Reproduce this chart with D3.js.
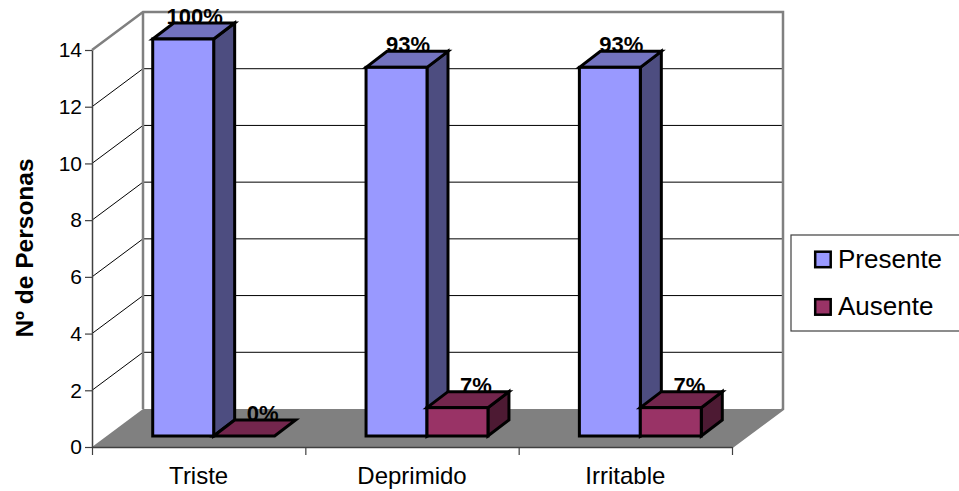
<!DOCTYPE html>
<html>
<head>
<meta charset="utf-8">
<script src="https://cdn.jsdelivr.net/npm/d3@7"></script>
<style>
    body { margin: 0; background: #fff; }
    svg { display: block; font-family: "Liberation Sans", Arial, sans-serif; }
    .domain { stroke: #404040; stroke-width: 1.5; }
    .tick line { stroke: #404040; stroke-width: 1.2; }
</style>
</head>
<body>
<div id="chart"></div>
<script>
const categories = ["Triste", "Deprimido", "Irritable"];
const presente = [14, 13, 13];
const ausente = [0, 1, 1];
const presenteLabels = ["100%", "93%", "93%"];
const ausenteLabels = ["0%", "7%", "7%"];
const yTicks = [0, 2, 4, 6, 8, 10, 12, 14];

const width = 959;
const height = 491;
const plotLeft = 92, plotRight = 732, plotBottom = 447, plotTop = 50;
const wallDx = 51, wallDy = 38;   // depth of the whole plot
const barDx = 21, barDy = 16;     // depth of one bar
const floorDx = 15, floorDy = 11; // where bars stand on the floor

const colors = {
    presente: { front: "#9999ff", top: "#7373bf", side: "#4d4d80" },
    ausente: { front: "#993366", top: "#73264d", side: "#4d1a33" }
};

const svg = d3.select("#chart").append("svg")
    .attr("width", width)
    .attr("height", height);

const y = d3.scaleLinear().domain([0, 14]).range([plotBottom, plotTop]);
const xEdges = d3.scaleLinear().domain([0, categories.length]).range([plotLeft, plotRight]);
const xBand = d3.scaleBand().domain(categories).range([plotLeft, plotRight]);
const xInner = d3.scaleBand().domain(["presente", "ausente"])
    .range([0, xBand.bandwidth()]).paddingOuter(0.75).paddingInner(0);

drawWalls();
drawAxes();
drawLabels();
drawBars();
drawLegend();

function drawWalls() {
    // floor
    svg.append("polygon")
        .attr("points", [
            [plotLeft, plotBottom], [plotRight, plotBottom],
            [plotRight + wallDx, plotBottom - wallDy], [plotLeft + wallDx, plotBottom - wallDy]
        ].join(" "))
        .attr("fill", "#808080")
        .attr("stroke", "none");

    // gridlines, back wall and left wall
    const grid = svg.append("g").attr("class", "grid");
    grid.selectAll("path")
        .data(yTicks.filter((d) => d > 0 && d < 14))
        .enter()
        .append("path")
        .attr("d", (d) => `M${plotLeft} ${y(d)}L${plotLeft + wallDx} ${y(d) - wallDy}H${plotRight + wallDx}`)
        .attr("fill", "none")
        .attr("stroke", "#000")
        .attr("stroke-width", 1);

    svg.append("path")
        .attr("d", `M${plotLeft} ${plotTop}L${plotLeft + wallDx} ${plotTop - wallDy}H${plotRight + wallDx}V${plotBottom - wallDy}L${plotRight} ${plotBottom}`)
        .attr("fill", "none")
        .attr("stroke", "#808080")
        .attr("stroke-width", 2.5);
    svg.append("line")
        .attr("x1", plotLeft + wallDx).attr("x2", plotLeft + wallDx)
        .attr("y1", plotTop - wallDy).attr("y2", plotBottom - wallDy)
        .attr("stroke", "#808080")
        .attr("stroke-width", 2.5);
}

function drawAxes() {
    const yAxis = d3.axisLeft(y).tickValues(yTicks).tickSize(7).tickSizeOuter(0);
    const gy = svg.append("g")
        .attr("transform", `translate(${plotLeft},0)`)
        .call(yAxis);
    gy.selectAll("text").style("font-size", "21px").attr("fill", "#000").attr("x", -10);

    const xAxis = d3.axisBottom(xEdges).ticks(categories.length).tickFormat("").tickSize(8).tickSizeOuter(0);
    svg.append("g")
        .attr("transform", `translate(0,${plotBottom})`)
        .call(xAxis);

    svg.append("g")
        .selectAll("text")
        .data(categories)
        .enter()
        .append("text")
        .attr("x", (d) => xBand(d) + xBand.bandwidth() / 2)
        .attr("y", 484)
        .attr("text-anchor", "middle")
        .style("font-size", "24px")
        .text((d) => d);

    svg.append("text")
        .attr("transform", "translate(32.5,248) rotate(-90)")
        .attr("text-anchor", "middle")
        .style("font-size", "24.5px")
        .style("font-weight", "bold")
        .text("Nº de Personas");
}

function barX(cat, key) {
    return xBand(cat) + xInner(key) + floorDx;
}

function barY(v) {
    return y(v) - floorDy;
}

function drawLabels() {
    const sets = [
        ["presente", presente, presenteLabels, 1],
        ["ausente", ausente, ausenteLabels, 8]
    ];
    sets.forEach(([key, values, labels, nudge]) => {
        svg.append("g")
            .selectAll("text")
            .data(categories)
            .enter()
            .append("text")
            .attr("x", (d) => barX(d, key) + xInner.bandwidth() / 2 + barDx / 2 + nudge)
            .attr("y", (d, i) => barY(values[i]) - barDy + 1)
            .attr("text-anchor", "middle")
            .style("font-size", "22px")
            .style("font-weight", "bold")
            .text((d, i) => labels[i]);
    });
}

function drawBars() {
    const rows = [];
    categories.forEach((cat, i) => {
        rows.push({ cat: cat, key: "presente", value: presente[i] });
        rows.push({ cat: cat, key: "ausente", value: ausente[i] });
    });

    const bar = svg.append("g").selectAll("g")
        .data(rows)
        .enter()
        .append("g")
        .attr("stroke", "#000")
        .attr("stroke-width", 3)
        .attr("stroke-linejoin", "miter");

    // side face
    bar.filter((d) => d.value > 0).append("path")
        .attr("fill", (d) => colors[d.key].side)
        .attr("d", (d) => {
            const x1 = barX(d.cat, d.key) + xInner.bandwidth(), t = barY(d.value), b = barY(0);
            return `M${x1} ${t}L${x1 + barDx} ${t - barDy}V${b - barDy}L${x1} ${b}Z`;
        });

    // top face
    bar.append("path")
        .attr("fill", (d) => colors[d.key].top)
        .attr("d", (d) => {
            const x0 = barX(d.cat, d.key), w = xInner.bandwidth(), t = barY(d.value);
            return `M${x0} ${t}L${x0 + barDx} ${t - barDy}H${x0 + w + barDx}L${x0 + w} ${t}Z`;
        });

    // front face
    bar.filter((d) => d.value > 0).append("rect")
        .attr("fill", (d) => colors[d.key].front)
        .attr("x", (d) => barX(d.cat, d.key))
        .attr("y", (d) => barY(d.value))
        .attr("width", xInner.bandwidth())
        .attr("height", (d) => barY(0) - barY(d.value));
}

function drawLegend() {
    const legendKeys = ["presente", "ausente"];
    const legendNames = ["Presente", "Ausente"];
    const legendY = d3.scalePoint().domain(legendKeys).range([259.5, 307]);

    svg.append("rect")
        .attr("x", 791).attr("y", 235)
        .attr("width", 172).attr("height", 96)
        .attr("fill", "#fff")
        .attr("stroke", "#404040")
        .attr("stroke-width", 1.2);

    const item = svg.append("g").selectAll("g")
        .data(legendKeys)
        .enter()
        .append("g")
        .attr("transform", (d) => `translate(0,${legendY(d)})`);

    item.append("rect")
        .attr("x", 815.2).attr("y", -7.8)
        .attr("width", 15.5).attr("height", 15.5)
        .attr("fill", (d) => colors[d].front)
        .attr("stroke", "#000")
        .attr("stroke-width", 2.5);

    item.append("text")
        .attr("x", 838).attr("y", 8)
        .style("font-size", "26px")
        .text((d, i) => legendNames[i]);
}
</script>
</body>
</html>
